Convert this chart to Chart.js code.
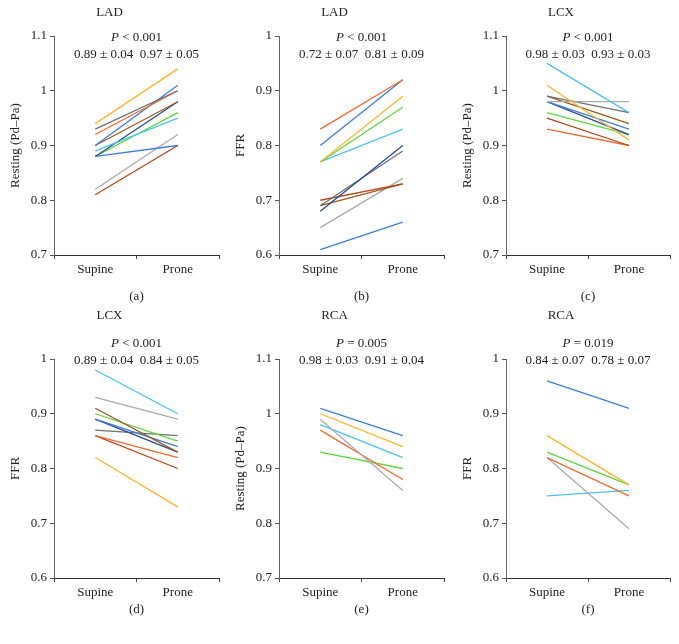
<!DOCTYPE html>
<html>
<head>
<meta charset="utf-8">
<script src="https://cdn.jsdelivr.net/npm/chart.js@4.4.1/dist/chart.umd.min.js"></script>
<style>
  body { margin: 0; background: #fff; width: 679px; height: 644px; position: relative; overflow: hidden; }
  canvas { position: absolute; }
</style>
</head>
<body>
<canvas id="chart-a" width="225" height="304" style="left:0;top:0"></canvas>
<canvas id="chart-b" width="225" height="304" style="left:225px;top:0"></canvas>
<canvas id="chart-c" width="225" height="304" style="left:452px;top:0"></canvas>
<canvas id="chart-d" width="225" height="340" style="left:0;top:304px"></canvas>
<canvas id="chart-e" width="225" height="340" style="left:225px;top:304px"></canvas>
<canvas id="chart-f" width="225" height="340" style="left:452px;top:304px"></canvas>

<script>
/* ----------------------------
   DATA
   One line per patient: Supine value -> Prone value
   ---------------------------- */
var positions = ["Supine", "Prone"];

// (a) LAD resting Pd/Pa
var ladRestSupine = [0.94, 0.93, 0.92, 0.90, 0.90, 0.89, 0.88, 0.88, 0.88, 0.82, 0.81];
var ladRestProne  = [1.04, 1.00, 1.00, 1.01, 0.98, 0.95, 0.98, 0.96, 0.90, 0.92, 0.90];

// (b) LAD FFR
var ladFfrSupine = [0.83, 0.80, 0.77, 0.77, 0.77, 0.68, 0.69, 0.70, 0.69, 0.65, 0.61];
var ladFfrProne  = [0.92, 0.92, 0.89, 0.87, 0.83, 0.80, 0.79, 0.73, 0.73, 0.74, 0.66];

// (c) LCX resting Pd/Pa
var lcxRestSupine = [1.05, 1.01, 0.98, 0.99, 0.99, 0.98, 0.98, 0.96, 0.95, 0.93];
var lcxRestProne  = [0.96, 0.91, 0.98, 0.96, 0.94, 0.93, 0.92, 0.92, 0.90, 0.90];

// (d) LCX FFR
var lcxFfrSupine = [0.98, 0.93, 0.91, 0.90, 0.89, 0.89, 0.87, 0.86, 0.86, 0.82];
var lcxFfrProne  = [0.90, 0.89, 0.83, 0.85, 0.84, 0.83, 0.86, 0.82, 0.80, 0.73];

// (e) RCA resting Pd/Pa
var rcaRestSupine = [1.01, 1.00, 0.99, 0.98, 0.97, 0.93];
var rcaRestProne  = [0.96, 0.94, 0.86, 0.92, 0.88, 0.90];

// (f) RCA FFR
var rcaFfrSupine = [0.96, 0.86, 0.83, 0.82, 0.82, 0.75];
var rcaFfrProne  = [0.91, 0.77, 0.77, 0.75, 0.69, 0.76];

/* ----------------------------
   COLOURS
   ---------------------------- */
var ORANGE  = "#ED6B33";
var GOLD    = "#F7B531";
var BLUE    = "#3E7CD4";
var LBLUE   = "#4EC0EC";
var GREEN   = "#5FD53E";
var LGRAY   = "#AAAAAA";
var DGRAY   = "#707070";
var BROWN   = "#9A5B22";
var NAVY    = "#2A4C8E";
var DORANGE = "#B8461C";

var ladRestColors = [GOLD, DGRAY, ORANGE, BLUE, BROWN, LBLUE, NAVY, GREEN, BLUE, LGRAY, DORANGE];
var ladFfrColors  = [ORANGE, BLUE, GOLD, GREEN, LBLUE, NAVY, DGRAY, DORANGE, BROWN, LGRAY, BLUE];
var lcxRestColors = [LBLUE, GOLD, LGRAY, DGRAY, BROWN, BLUE, NAVY, GREEN, DORANGE, ORANGE];
var lcxFfrColors  = [LBLUE, LGRAY, BROWN, GREEN, BLUE, NAVY, DGRAY, ORANGE, DORANGE, GOLD];
var rcaRestColors = [BLUE, GOLD, LGRAY, LBLUE, ORANGE, GREEN];
var rcaFfrColors  = [BLUE, GOLD, GREEN, ORANGE, LGRAY, LBLUE];

var FONT = "'Liberation Serif', 'Times New Roman', serif";
var TEXT = "#222222";

/* ----------------------------
   STATS TEXT PLUGIN
   Draws "P < 0.001" (italic P) and the mean ± SD line
   ---------------------------- */
var statsPlugin = {
  id: "stats",
  afterDraw: function (chart, args, opts) {
    var ctx = chart.ctx;
    var cx = (chart.chartArea.left + chart.chartArea.right) / 2;
    var italic = "italic 13px " + FONT;
    var normal = "13px " + FONT;
    var rest = " " + opts.pText;

    ctx.save();
    ctx.fillStyle = TEXT;
    ctx.textBaseline = "middle";

    ctx.font = italic;
    var wP = ctx.measureText("P").width;
    ctx.font = normal;
    var wR = ctx.measureText(rest).width;
    var x0 = cx - (wP + wR) / 2;

    ctx.textAlign = "left";
    ctx.font = italic;
    ctx.fillText("P", x0, opts.y);
    ctx.font = normal;
    ctx.fillText(rest, x0 + wP, opts.y);

    ctx.textAlign = "center";
    ctx.fillText(opts.means, cx, opts.y + 17);
    ctx.restore();
  }
};

/* ----------------------------
   ROW LAYOUTS (top row / bottom row)
   ---------------------------- */
var topRow    = { titleTop: 5, titleBottom: 15.4, xHeight: 49, letterPad: 0,  statsY: 38 };
var bottomRow = { titleTop: 4, titleBottom: 35.4, xHeight: 66, letterPad: 27, statsY: 40 };

function makePanel(id, p) {
  var canvas = document.getElementById(id);
  if (!canvas) { return; }

  var datasets = p.supine.map(function (s, i) {
    return {
      data: [s, p.prone[i]],
      borderColor: p.colors[i],
      borderWidth: 1.3,
      pointRadius: 0,
      tension: 0,
      fill: false
    };
  });

  return new Chart(canvas.getContext("2d"), {
    type: "line",
    data: { labels: positions, datasets: datasets },
    plugins: [statsPlugin],
    options: {
      responsive: false,
      animation: false,
      layout: { padding: { left: 0, right: p.rightPad, top: 0, bottom: 0 } },
      plugins: {
        legend: { display: false },
        tooltip: { enabled: false },
        title: {
          display: true,
          text: p.title,
          color: TEXT,
          font: { family: FONT, size: 13, weight: "normal" },
          padding: { top: p.row.titleTop, bottom: p.row.titleBottom }
        },
        stats: { pText: p.pText, means: p.means, y: p.row.statsY }
      },
      scales: {
        x: {
          offset: true,
          afterFit: function (scale) { scale.height = p.row.xHeight; },
          grid: { offset: true, drawOnChartArea: false, tickLength: 4, color: "#444" },
          border: { display: true, color: "#333", width: 1 },
          ticks: { color: TEXT, font: { family: FONT, size: 13 }, padding: 3 },
          title: {
            display: true,
            text: p.letter,
            color: TEXT,
            font: { family: FONT, size: 13 },
            padding: { top: 0, bottom: p.row.letterPad }
          }
        },
        y: {
          min: p.yMin,
          max: p.yMax,
          afterFit: function (scale) { scale.width = 54; },
          grid: { drawOnChartArea: false, tickLength: 4, color: "#555" },
          border: { display: true, color: "#666", width: 1 },
          ticks: {
            stepSize: 0.1,
            color: TEXT,
            padding: 3,
            font: { family: FONT, size: 13 },
            callback: function (v) { return String(Math.round(v * 10) / 10); }
          },
          title: {
            display: true,
            text: p.yTitle,
            color: TEXT,
            font: { family: FONT, size: 13 },
            padding: { top: 8, bottom: 0 }
          }
        }
      }
    }
  });
}

makePanel("chart-a", {
  title: "LAD", letter: "(a)", yTitle: "Resting (Pd\u2013Pa)", yMin: 0.7, yMax: 1.1,
  pText: "< 0.001", means: "0.89 \u00b1 0.04  0.97 \u00b1 0.05",
  supine: ladRestSupine, prone: ladRestProne, colors: ladRestColors,
  row: topRow, rightPad: 6
});
makePanel("chart-b", {
  title: "LAD", letter: "(b)", yTitle: "FFR", yMin: 0.6, yMax: 1.0,
  pText: "< 0.001", means: "0.72 \u00b1 0.07  0.81 \u00b1 0.09",
  supine: ladFfrSupine, prone: ladFfrProne, colors: ladFfrColors,
  row: topRow, rightPad: 6
});
makePanel("chart-c", {
  title: "LCX", letter: "(c)", yTitle: "Resting (Pd\u2013Pa)", yMin: 0.7, yMax: 1.1,
  pText: "< 0.001", means: "0.98 \u00b1 0.03  0.93 \u00b1 0.03",
  supine: lcxRestSupine, prone: lcxRestProne, colors: lcxRestColors,
  row: topRow, rightPad: 7
});
makePanel("chart-d", {
  title: "LCX", letter: "(d)", yTitle: "FFR", yMin: 0.6, yMax: 1.0,
  pText: "< 0.001", means: "0.89 \u00b1 0.04  0.84 \u00b1 0.05",
  supine: lcxFfrSupine, prone: lcxFfrProne, colors: lcxFfrColors,
  row: bottomRow, rightPad: 6
});
makePanel("chart-e", {
  title: "RCA", letter: "(e)", yTitle: "Resting (Pd\u2013Pa)", yMin: 0.7, yMax: 1.1,
  pText: "= 0.005", means: "0.98 \u00b1 0.03  0.91 \u00b1 0.04",
  supine: rcaRestSupine, prone: rcaRestProne, colors: rcaRestColors,
  row: bottomRow, rightPad: 6
});
makePanel("chart-f", {
  title: "RCA", letter: "(f)", yTitle: "FFR", yMin: 0.6, yMax: 1.0,
  pText: "= 0.019", means: "0.84 \u00b1 0.07  0.78 \u00b1 0.07",
  supine: rcaFfrSupine, prone: rcaFfrProne, colors: rcaFfrColors,
  row: bottomRow, rightPad: 7
});
</script>
</body>
</html>
